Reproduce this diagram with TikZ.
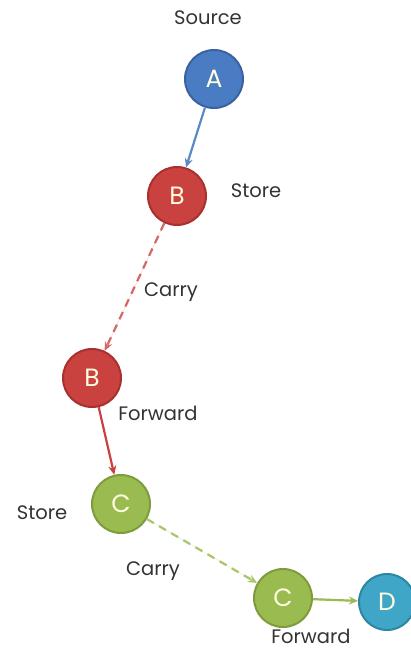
\documentclass[tikz,border=0pt]{standalone}
\usepackage{fontspec}
\setmainfont{Poppins}
\usetikzlibrary{arrows.meta}
\definecolor{nodeblue}{HTML}{4A7CC4}
\definecolor{nodebluedark}{HTML}{3A62A0}
\definecolor{nodered}{HTML}{C9423F}
\definecolor{noderedborder}{HTML}{A8312F}
\definecolor{nodegreen}{HTML}{99BB4F}
\definecolor{nodegreenborder}{HTML}{7E9C3C}
\definecolor{nodeaqua}{HTML}{3FA6C8}
\definecolor{nodeaquaborder}{HTML}{2F86A4}
\definecolor{labeltext}{HTML}{333333}
\begin{document}
\begin{tikzpicture}[x=1pt,y=-1pt,
  hop/.style={circle,minimum size=58pt,inner sep=0pt,line width=2pt,
    text=white!88!yellow,font=\fontsize{25}{25}\selectfont},
  tag/.style={text=labeltext,font=\fontsize{19.5}{20}\selectfont,inner sep=0pt},
  link/.style={line width=2.2pt,-{Stealth[length=9pt,width=8pt]}},
  carry/.style={link,dash pattern=on 8pt off 6pt}]
\useasboundingbox (0,0) rectangle (411,649);
\fill[white] (0,0) rectangle (411,649);

\node[hop,fill=nodeblue,draw=nodebluedark] (a) at (214,79) {A};
\node[hop,fill=nodered,draw=noderedborder] (b1) at (177,196) {B};
\node[hop,fill=nodered,draw=noderedborder] (b2) at (92,378) {B};
\node[hop,fill=nodegreen,draw=nodegreenborder] (c1) at (121,504) {C};
\node[hop,fill=nodegreen,draw=nodegreenborder] (c2) at (283,598) {C};
\node[hop,fill=nodeaqua,draw=nodeaquaborder,minimum size=56pt] (d) at (387,602) {D};

\node[tag] (lsource) at (208,18) {Source};
\node[tag] (lstore1) at (256,191) {Store};
\node[tag] (lcarry1) at (171,292) {Carry};
\node[tag] (lfwd1) at (158,413) {Forward};
\node[tag] (lstore2) at (42,513) {Store};
\node[tag] (lcarry2) at (153,571) {Carry};
\node[tag] (lfwd2) at (311,636) {Forward};

\draw[link,draw=nodeblue!90,fill=nodeblue!90] (a) -- (b1);
\draw[carry,draw=nodered!80,fill=nodered!80] (b1) -- (b2);
\draw[link,draw=nodered,fill=nodered] (b2) -- (c1);
\draw[carry,draw=nodegreen!85,fill=nodegreen!85] (c1) -- (c2);
\draw[link,draw=nodegreen,fill=nodegreen] (c2) -- (d);
\end{tikzpicture}
\end{document}
